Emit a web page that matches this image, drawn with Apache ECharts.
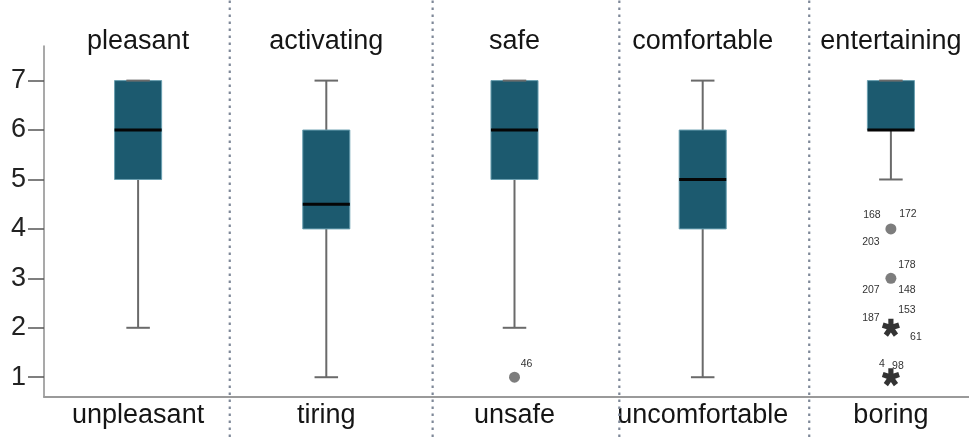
<!DOCTYPE html>
<html>
<head>
<meta charset="utf-8">
<script src="https://cdn.jsdelivr.net/npm/echarts@6/dist/echarts.min.js"></script>
<style>
  html, body { margin: 0; padding: 0; background: #fff; overflow: hidden; }
  /* the plot area runs a little past the right edge of the window */
  #chart { width: 985px; height: 437px; }
</style>
</head>
<body>
<div id="chart"></div>
<script>
// Scale poles: positive adjective on top, its opposite underneath
const categories = ['pleasant', 'activating', 'safe', 'comfortable', 'entertaining'];
const oppositeLabels = ['unpleasant', 'tiring', 'unsafe', 'uncomfortable', 'boring'];
const yTicks = [1, 2, 3, 4, 5, 6, 7];

// Box statistics per scale
const whiskerLow  = [2, 1,   2, 1, 5];
const quartile1   = [5, 4,   5, 4, 6];
const medians     = [6, 4.5, 6, 5, 6];
const quartile3   = [7, 6,   7, 6, 7];
const whiskerHigh = [7, 7,   7, 7, 7];

// Outliers (circles) and extreme values (stars): [scale index, rating]
const outlierPoints = [[2, 1], [4, 4], [4, 3]];
const outlierCaseIds = [['46'], ['168', '172', '203'], ['178', '207', '148']];
const extremePoints = [[4, 2], [4, 1]];
const extremeCaseIds = [['187', '153', '61'], ['4', '98']];

// Panel dividers, in category-band units from the left axis
const dividerAt = [0.987, 2.065, 3.057, 4.066];

// Pixel offsets for the case-number labels around each point
const outlierIdOffsets = [
  [[12, -13]],
  [[-19, -14], [17, -15], [-20, 13]],
  [[16, -13], [-20, 12], [16, 12]]
];
const extremeIdOffsets = [
  [[-20, -10], [16, -18], [25, 9]],
  [[-9, -13], [7, -11]]
];

const FONT = "'Liberation Sans', Arial, sans-serif";

// Asterisk-like symbol with thick arms
function asteriskPath(arms, halfWidth) {
  const tips = [];
  const inner = [];
  for (let k = 0; k < arms; k++) {
    const a = -Math.PI / 2 + k * 2 * Math.PI / arms;
    const ca = Math.cos(a), sa = Math.sin(a);
    const px = -sa, py = ca;
    tips.push([[ca - px * halfWidth, sa - py * halfWidth], [ca + px * halfWidth, sa + py * halfWidth]]);
    const b = a + Math.PI / arms;
    const r = halfWidth / Math.sin(Math.PI / arms);
    inner.push([Math.cos(b) * r, Math.sin(b) * r]);
  }
  const seq = [];
  for (let k = 0; k < arms; k++) {
    seq.push(tips[k][0], tips[k][1], inner[k]);
  }
  let d = '';
  seq.forEach((p, i) => {
    d += (i === 0 ? 'M' : 'L') + (p[0] * 50 + 50).toFixed(2) + ',' + (p[1] * 50 + 50).toFixed(2) + ' ';
  });
  return 'path://' + d + 'Z';
}

function buildIdLabels(points, ids, offsets) {
  const out = [];
  points.forEach((p, i) => {
    ids[i].forEach((id, j) => {
      out.push({ value: [p[0], p[1]], name: id, off: offsets[i][j] });
    });
  });
  return out;
}
const idLabels = buildIdLabels(outlierPoints, outlierCaseIds, outlierIdOffsets)
  .concat(buildIdLabels(extremePoints, extremeCaseIds, extremeIdOffsets));

const chart = echarts.init(document.getElementById('chart'), null, { renderer: 'canvas' });

const option = {
  backgroundColor: '#ffffff',
  animation: false,
  textStyle: { fontFamily: FONT },
  grid: [
    { left: 44, right: 0, top: 46, bottom: 40 },
    { left: 44, right: 0, top: 0, bottom: 0 }
  ],
  xAxis: [
    {
      type: 'category', gridIndex: 0, position: 'bottom', data: oppositeLabels,
      boundaryGap: true,
      axisLine: { show: true, lineStyle: { color: '#9a9a9a', width: 2 } },
      axisTick: { show: false },
      axisLabel: { interval: 0, fontSize: 27, color: '#151515', margin: 5, fontFamily: FONT },
      splitLine: { show: false }
    },
    {
      type: 'category', gridIndex: 0, position: 'top', data: categories,
      boundaryGap: true,
      axisLine: { show: false }, axisTick: { show: false },
      axisLabel: { interval: 0, fontSize: 27, color: '#151515', margin: -9, fontFamily: FONT },
      splitLine: { show: false }
    },
    {
      type: 'value', gridIndex: 1, min: 0, max: 5, show: false
    }
  ],
  yAxis: [
    {
      type: 'value', gridIndex: 0, min: 0.6, max: 7.7,
      axisLine: { show: true, lineStyle: { color: '#8c8c8c', width: 1.5 } },
      axisTick: { show: true, customValues: yTicks, length: 16, lineStyle: { color: '#555', width: 1.5 } },
      axisLabel: { customValues: yTicks, fontSize: 27, color: '#222', margin: 18, fontFamily: FONT },
      splitLine: { show: false }
    },
    { type: 'value', gridIndex: 1, min: 0, max: 1, show: false }
  ],
  series: [
    {
      // dotted panel dividers spanning the full height
      type: 'custom', xAxisIndex: 2, yAxisIndex: 1, silent: true, clip: false,
      data: dividerAt.map(v => [v]),
      renderItem(params, api) {
        const p0 = api.coord([api.value(0), 0]);
        const p1 = api.coord([api.value(0), 1]);
        return {
          type: 'line',
          shape: { x1: p0[0], y1: p0[1], x2: p1[0], y2: p1[1] },
          style: { stroke: '#7e8898', lineWidth: 2.2, lineDash: [2.4, 4.6] }
        };
      },
      z: 1
    },
    {
      // box plots
      type: 'custom', xAxisIndex: 0, yAxisIndex: 0, clip: false,
      data: categories.map((c, i) => [i, whiskerLow[i], quartile1[i], medians[i], quartile3[i], whiskerHigh[i]]),
      encode: { x: 0, y: [1, 2, 3, 4, 5] },
      renderItem(params, api) {
        const i = api.value(0);
        const x = api.coord([i, 0])[0];
        const bw = api.size([1, 0])[0] * 0.25;
        const cap = bw * 0.5;
        const yLo = api.coord([i, api.value(1)])[1];
        const yQ1 = api.coord([i, api.value(2)])[1];
        const yMd = api.coord([i, api.value(3)])[1];
        const yQ3 = api.coord([i, api.value(4)])[1];
        const yHi = api.coord([i, api.value(5)])[1];
        const grey = '#6a6a6a';
        return {
          type: 'group',
          children: [
            { type: 'line', shape: { x1: x, y1: yHi, x2: x, y2: yLo }, style: { stroke: grey, lineWidth: 2 } },
            { type: 'rect', shape: { x: x - bw / 2, y: yQ3, width: bw, height: yQ1 - yQ3 },
              style: { fill: '#1c5a6f', stroke: '#6a9fb0', lineWidth: 1 } },
            { type: 'line', shape: { x1: x - bw / 2, y1: yMd, x2: x + bw / 2, y2: yMd }, style: { stroke: '#050505', lineWidth: 3 } },
            { type: 'line', shape: { x1: x - cap / 2, y1: yLo, x2: x + cap / 2, y2: yLo }, style: { stroke: grey, lineWidth: 2 } },
            { type: 'line', shape: { x1: x - cap / 2, y1: yHi, x2: x + cap / 2, y2: yHi }, style: { stroke: grey, lineWidth: 2 } }
          ]
        };
      },
      z: 3
    },
    {
      type: 'scatter', xAxisIndex: 0, yAxisIndex: 0,
      data: outlierPoints,
      symbol: 'circle', symbolSize: 11,
      itemStyle: { color: '#5c5c5c' },
      z: 4
    },
    {
      type: 'scatter', xAxisIndex: 0, yAxisIndex: 0,
      data: extremePoints,
      symbol: asteriskPath(5, 0.3), symbolSize: 18,
      itemStyle: { color: '#000' },
      z: 4
    },
    {
      // case numbers next to outliers and extremes
      type: 'custom', xAxisIndex: 0, yAxisIndex: 0, clip: false, silent: true,
      data: idLabels,
      renderItem(params, api) {
        const item = idLabels[params.dataIndex];
        const p = api.coord([api.value(0), api.value(1)]);
        return {
          type: 'text',
          x: p[0] + item.off[0], y: p[1] + item.off[1],
          style: { text: item.name, fill: '#333', fontSize: 10.5, fontFamily: FONT, align: 'center', verticalAlign: 'middle' }
        };
      },
      z: 5
    }
  ]
};

chart.setOption(option);
</script>
</body>
</html>
